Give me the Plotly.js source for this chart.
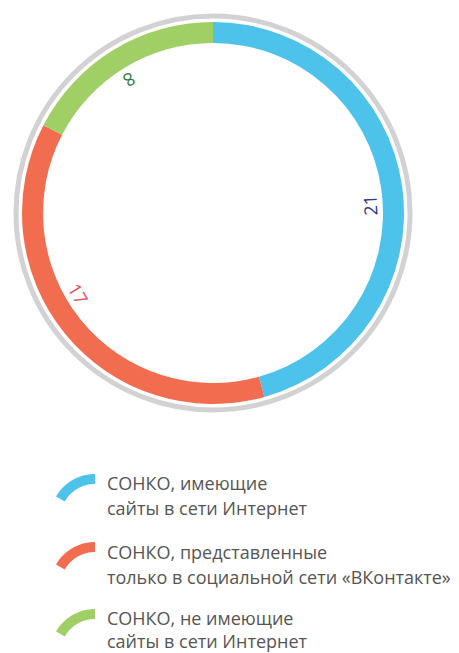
<!DOCTYPE html>
<html>
<head>
<meta charset="utf-8">
<script src="https://cdn.plot.ly/plotly-3.0.1.min.js"></script>
<style>html,body{margin:0;padding:0;background:#fff;}#chart{width:459px;height:653px;}</style>
</head>
<body>
<div id="chart"></div>
<script>
// ---- data ----
var categories = [
  "СОНКО, имеющие<br>сайты в сети Интернет",
  "СОНКО, представленные<br>только в социальной сети «ВКонтакте»",
  "СОНКО, не имеющие<br>сайты в сети Интернет"
];
var values = [21, 17, 8];
var valueLabels = ["21", "17", "8"];

// ---- styles / layout constants ----
var W = 459, H = 653;
var colors = ["#4dc3ec", "#f26c50", "#a0cf66"];
var labelColors = ["#2b3a8c", "#e84a52", "#2a7a3a"];
var labelAngles = [87, 239, 328]; // degrees clockwise from top
var cx = 213, cy = 213, rOuter = 191, rLabel = 157;

function px(x) { return x / W; }
function py(y) { return 1 - y / H; }

var trace = {
  type: "pie",
  values: values,
  labels: categories,
  sort: false,
  direction: "clockwise",
  rotation: 0,
  hole: 0.89,
  textinfo: "none",
  hoverinfo: "none",
  marker: { colors: colors, line: { width: 0 } },
  domain: { x: [px(cx - rOuter), px(cx + rOuter)], y: [py(cy + rOuter), py(cy - rOuter)] },
  showlegend: false
};

var shapes = [];
var annotations = [];

// outer gray ring
var rg = 197;
shapes.push({
  type: "circle", xref: "paper", yref: "paper",
  x0: px(cx - rg), x1: px(cx + rg), y0: py(cy + rg), y1: py(cy - rg),
  line: { color: "#d2d2d4", width: 5 }, fillcolor: "rgba(0,0,0,0)"
});

// value labels
for (var i = 0; i < values.length; i++) {
  var a = labelAngles[i] * Math.PI / 180;
  annotations.push({
    xref: "paper", yref: "paper",
    x: px(cx + rLabel * Math.sin(a)), y: py(cy - rLabel * Math.cos(a)),
    xanchor: "center", yanchor: "middle",
    text: valueLabels[i], showarrow: false,
    textangle: labelAngles[i] - 180,
    font: { family: "Open Sans, sans-serif", size: 18, color: labelColors[i] }
  });
}

// legend
var rowTop = [474, 542, 609];
var lineY = [[483, 508], [552, 577], [618, 641]];
function arcPath(icx, icy, ro, ri, a0, a1) {
  var pts = [], n = 24, k, t;
  for (k = 0; k <= n; k++) {
    t = (a0 + (a1 - a0) * k / n) * Math.PI / 180;
    pts.push([icx + ro * Math.sin(t), icy - ro * Math.cos(t)]);
  }
  for (k = n; k >= 0; k--) {
    t = (a0 + (a1 - a0) * k / n) * Math.PI / 180;
    pts.push([icx + ri * Math.sin(t), icy - ri * Math.cos(t)]);
  }
  return pts.map(function (p, j) { return (j ? "L" : "M") + px(p[0]).toFixed(5) + "," + py(p[1]).toFixed(5); }).join(" ") + " Z";
}
for (i = 0; i < categories.length; i++) {
  shapes.push({
    type: "path", xref: "paper", yref: "paper",
    path: arcPath(95, rowTop[i] + 45, 45, 35, -60, 0),
    fillcolor: colors[i], line: { width: 0 }
  });
  var lines = categories[i].split("<br>");
  for (var j = 0; j < lines.length; j++) {
    annotations.push({
      xref: "paper", yref: "paper", x: px(106), y: py(lineY[i][j]),
      xanchor: "left", yanchor: "middle", showarrow: false,
      borderpad: 0,
      text: lines[j],
      font: { family: "Open Sans, sans-serif", size: 18, color: "#555555" }
    });
  }
}

var layout = {
  width: W, height: H,
  margin: { l: 0, r: 0, t: 0, b: 0 },
  paper_bgcolor: "#ffffff",
  showlegend: false,
  shapes: shapes,
  annotations: annotations
};

Plotly.newPlot("chart", [trace], layout, { displayModeBar: false, staticPlot: true });
</script>
</body>
</html>
